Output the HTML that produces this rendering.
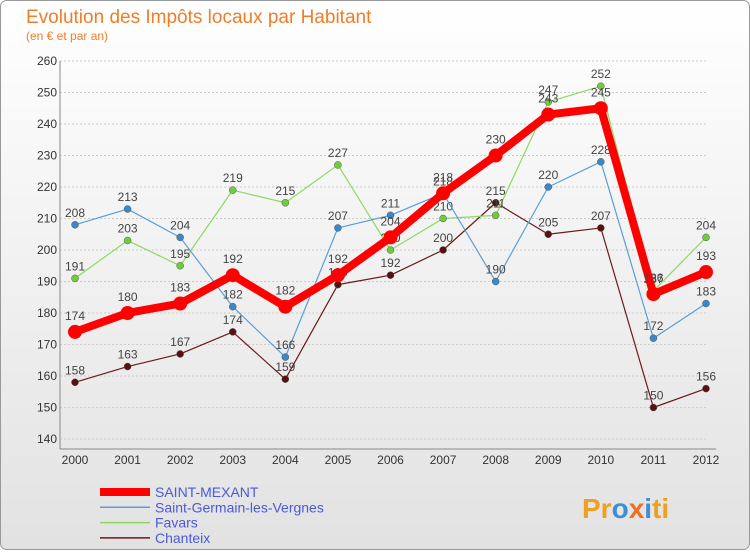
<!DOCTYPE html>
<html><head><meta charset="utf-8"><style>
body{margin:0;width:750px;height:550px;overflow:hidden;font-family:"Liberation Sans",sans-serif}
</style></head><body>
<svg width="750" height="550" xmlns="http://www.w3.org/2000/svg">
<defs><linearGradient id="bg" x1="0" y1="0" x2="0" y2="1"><stop offset="0" stop-color="#ffffff"/><stop offset="1" stop-color="#e2e2e2"/></linearGradient></defs>
<rect x="0.5" y="0.5" width="749" height="549" rx="6" fill="url(#bg)" stroke="#999"/>
<text x="26" y="23" font-size="19" fill="#f07d2a">Evolution des Impôts locaux par Habitant</text>
<text x="26" y="40" font-size="12" fill="#f07d2a">(en € et par an)</text>
<g id="axes"></g><g id="series"></g><g id="legend"></g>
<g font-size="28" font-weight="bold">
<text x="582" y="518"><tspan fill="#f0a020">Pr</tspan><tspan fill="#3b8fd8">o</tspan><tspan fill="#f07020">x</tspan><tspan fill="#3b8fd8">i</tspan><tspan fill="#f0a020">ti</tspan></text></g>
</svg>
<script>
const years=["2000","2001","2002","2003","2004","2005","2006","2007","2008","2009","2010","2011","2012"];
const yTicks=[140,150,160,170,180,190,200,210,220,230,240,250,260];
const seriesNames=["SAINT-MEXANT","Saint-Germain-les-Vergnes","Favars","Chanteix"];
const saintMexant=[174,180,183,192,182,192,204,218,230,243,245,186,193];
const saintGermain=[208,213,204,182,166,207,211,218,190,220,228,172,183];
const favars=[191,203,195,219,215,227,200,210,211,247,252,187,204];
const chanteix=[158,163,167,174,159,189,192,200,215,205,207,150,156];
const NS="http://www.w3.org/2000/svg";
const X0=75,X1=706,Y0=439,Y1=61,VMIN=140,VMAX=260;
const xs=i=>X0+(X1-X0)*i/(years.length-1);
const ys=v=>Y0-(v-VMIN)/(VMAX-VMIN)*(Y0-Y1);
function mk(t,a,p){const e=document.createElementNS(NS,t);for(const k in a)e.setAttribute(k,a[k]);p.appendChild(e);return e;}
const ax=document.getElementById('axes');
yTicks.forEach(v=>{
 const l=mk('line',{x1:X0-15,x2:X1,y1:ys(v),y2:ys(v),stroke:'#ccc','stroke-dasharray':'2,2'},ax);
 
 
 const t=mk('text',{x:X0-18,y:ys(v)+4,'font-size':12,fill:'#333','text-anchor':'end'},ax);t.textContent=v;
 
 
});
const ya=mk('line',{x1:60,x2:60,y1:Y1,y2:Y0+10,stroke:'#888'},ax);


const xa=mk('line',{x1:60,x2:X1+10,y1:Y0+10,y2:Y0+10,stroke:'#888'},ax);


years.forEach((y,i)=>{
 const t=mk('text',{x:xs(i),y:Y0+25,'font-size':12,fill:'#333','text-anchor':'middle'},ax);t.textContent=y;
 
 
});
const defs=[[chanteix,'#6b1a1a',1.2,3.5,'#5a1010'],[favars,'#8fd860',1.2,3.5,'#6fcc3a'],[saintGermain,'#5a9fd4',1.2,3.5,'#3b87c8'],[saintMexant,'#ff0000',8,7,'#ff0000']];
const names=['chanteix','favars','saint-germain','saint-mexant'];
const sg=document.getElementById('series');
defs.forEach((d,k)=>{
 const g=mk('g',{},sg);
 
 
 const pts=d[0].map((v,i)=>xs(i)+','+ys(v)).join(' ');
 const pl=mk('polyline',{points:pts,fill:'none',stroke:d[1],'stroke-width':d[2],'stroke-linejoin':'round'},g);
 
 
 d[0].forEach((v,i)=>{
  const c=mk('circle',{cx:xs(i),cy:ys(v),r:d[3],fill:d[4],stroke:k==3?'#ff0000':'#555','stroke-width':k==3?0:0.5},g);
  
  
  const t=mk('text',{x:xs(i),y:ys(v)-(k==3?12:8),'font-size':12,fill:'#444','text-anchor':'middle'},g);t.textContent=v;
  
  
 });
});
const lg=document.getElementById('legend');
const lc=['#ff0000','#5a9fd4','#8fd860','#6b1a1a'],lw=[8,1.5,1.5,1.5];
seriesNames.forEach((n,i)=>{
 const y=492+i*15.3;
 const g=mk('g',{},lg);
 
 
 mk('line',{x1:100,x2:150,y1:y,y2:y,stroke:lc[i],'stroke-width':lw[i]},g);
 const t=mk('text',{x:155,y:y+5,'font-size':14,fill:'#4a5ad8'},g);t.textContent=n;
});
</script>
</body></html>
